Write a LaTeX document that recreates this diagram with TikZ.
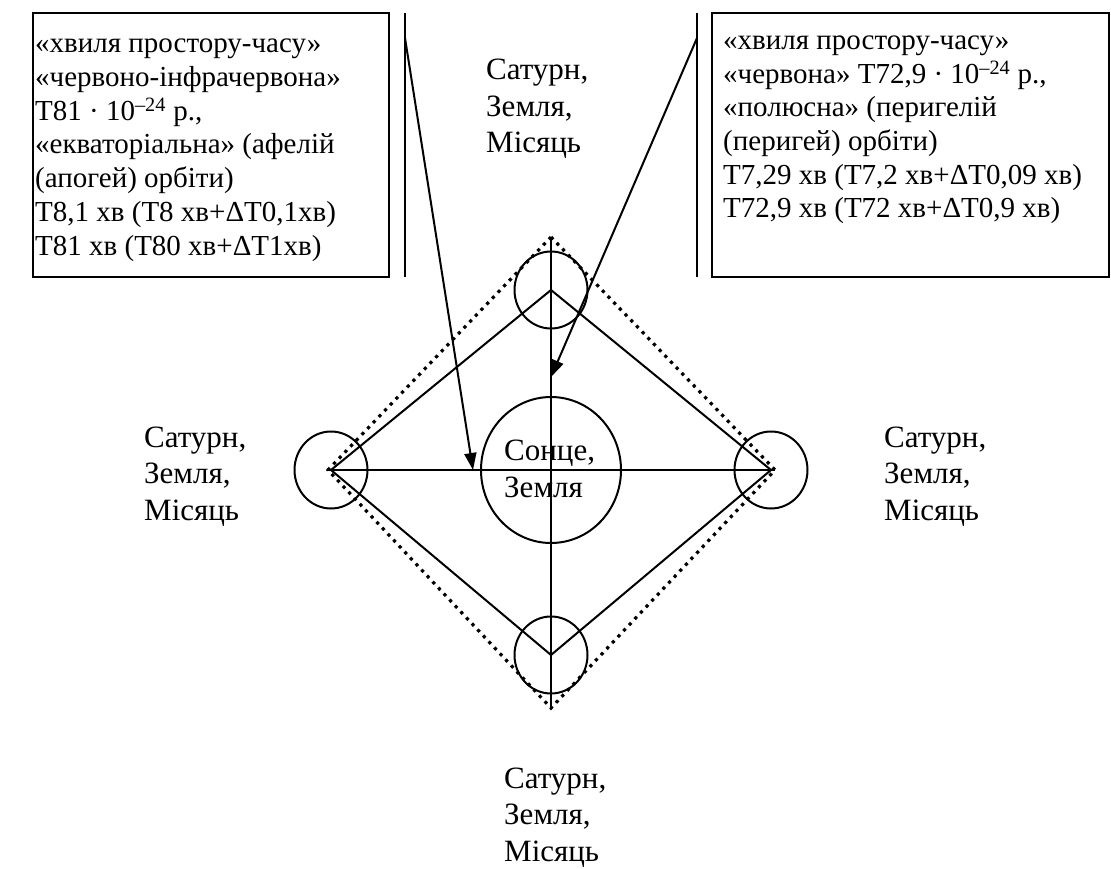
\documentclass[tikz,border=0pt]{standalone}
\usepackage{fontspec}
\setmainfont{Liberation Serif}
\usetikzlibrary{arrows.meta,shapes.geometric}
\definecolor{skInk}{HTML}{000000}
\tikzset{
  txt/.style={anchor=base west, inner sep=0pt, align=left, font=\fontsize{29}{33.7}\selectfont},
  lbl/.style={anchor=base west, inner sep=0pt, align=left, font=\fontsize{31}{36.5}\selectfont},
  orb/.style={ellipse, draw=skInk, line width=2pt, minimum width=73pt, minimum height=77pt, inner sep=0pt},
  ln/.style={draw=skInk, line width=2pt},
  dotd/.style={draw=skInk, line width=3.2pt, dash pattern=on 3.2pt off 5pt},
  arr/.style={ln, -{Triangle[length=17pt,width=12pt]}},
}
\begin{document}
\begin{tikzpicture}[x=1pt,y=-1pt]
\useasboundingbox (0,0) rectangle (1111,869);
% frames and side bars
\draw[ln] (33,13) rectangle (389,277);
\draw[ln] (712,13) rectangle (1109,277);
\coordinate (barLt) at (405,13);
\coordinate (barLb) at (405,277);
\coordinate (barRt) at (697,13);
\coordinate (barRb) at (697,277);
\draw[ln] (barLt) -- (barLb);
\draw[ln] (barRt) -- (barRb);
% orbit
\coordinate (dT) at (551,237);
\coordinate (dR) at (775,470);
\coordinate (dB) at (551,708);
\coordinate (dL) at (328,470);
\draw[dotd] (dT) -- (dR) -- (dB) -- (dL) -- cycle;
\node[orb] (cT) at (551,290) {};
\node[orb] (cR) at (771,470) {};
\node[orb] (cB) at (551,655) {};
\node[orb] (cL) at (331,470) {};
\node[orb, minimum width=140pt, minimum height=146pt] (sun) at (551,470) {};
\draw[ln] (cT.center) -- (cR.center) -- (cB.center) -- (cL.center) -- cycle;
\draw[ln] (dL) -- (dR);
\draw[ln] (dT) -- (dB);
% pointers
\coordinate (aS) at (405,38);
\coordinate (aE) at (473,470);
\coordinate (bS) at (697,38);
\coordinate (bE) at (551,377);
\draw[arr] (aS) -- (aE);
\draw[arr] (bS) -- (bE);
% texts (anchored on the last line)
\node[txt] (infoL) at (35,255) {«хвиля простору-часу»\\
«червоно-інфрачервона»\\
Т81 · 10\textsuperscript{–24} р.,\\
«екваторіальна» (афелій\\
(апогей) орбіти)\\
Т8,1 хв (Т8 хв+ΔТ0,1хв)\\
Т81 хв (Т80 хв+ΔТ1хв)};
\node[txt] (infoR) at (723,218) {«хвиля простору-часу»\\
«червона» Т72,9 · 10\textsuperscript{–24} р.,\\
«полюсна» (перигелій\\
(перигей) орбіти)\\
Т7,29 хв (Т7,2 хв+ΔТ0,09 хв)\\
Т72,9 хв (Т72 хв+ΔТ0,9 хв)};
\node[lbl] (lT) at (486,153) {Сатурн,\\Земля,\\Місяць};
\node[lbl] (lL) at (144,520) {Сатурн,\\Земля,\\Місяць};
\node[lbl] (lR) at (884,520) {Сатурн,\\Земля,\\Місяць};
\node[lbl] (lB) at (504,861) {Сатурн,\\Земля,\\Місяць};
\node[lbl] (lS) at (504,497) {Сонце,\\Земля};
\end{tikzpicture}
\end{document}
